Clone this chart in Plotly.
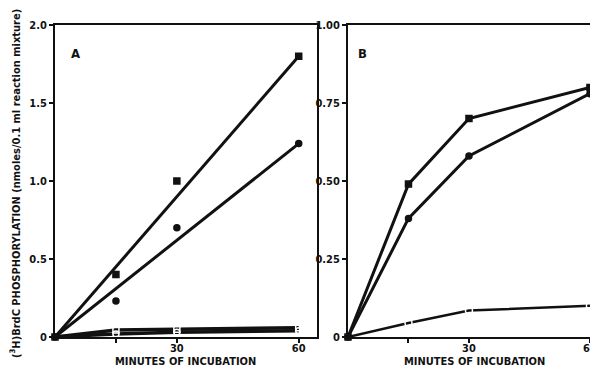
import plotly.graph_objects as go

# Panel A data
a_minutes = [0, 15, 30, 60]
a_sq_filled = [0, 0.40, 1.00, 1.80]
a_ci_filled = [0, 0.23, 0.70, 1.24]
a_fit_x = [0, 60]
a_sq_fit = [0, 1.80]
a_ci_fit = [0, 1.24]
a_sq_open = [0, 0.045, 0.05, 0.06]
a_ci_open = [0, 0.02, 0.03, 0.04]

# Panel B data
b_minutes = [0, 15, 30, 60]
b_sq_filled = [0, 0.49, 0.70, 0.80]
b_ci_filled = [0, 0.38, 0.58, 0.78]
b_ci_open = [0, 0.045, 0.085, 0.10]

x_tickvals = [15, 30, 60]
x_ticktext = ["", "30", "60"]
a_yticks = [0, 0.5, 1.0, 1.5, 2.0]
a_yticktext = ["0", "0.5", "1.0", "1.5", "2.0"]
b_yticks = [0, 0.25, 0.5, 0.75, 1.0]
b_yticktext = ["0", "0.25", "0.50", "0.75", "1.00"]

INK = "#111111"
FONT = "DejaVu Sans Condensed, Liberation Sans Narrow, Roboto, sans-serif"
OFF = 8  # page body margin
W, H = 598 - OFF, 371 - OFF


def px(x):
    return (x - OFF) / W


def py(y):
    return 1 - (y - OFF) / H


fig = go.Figure()


def line(x, y, xa, ya, width=3):
    fig.add_trace(go.Scatter(x=x, y=y, mode="lines", xaxis=xa, yaxis=ya,
                             line=dict(color=INK, width=width), showlegend=False,
                             hoverinfo="skip", cliponaxis=False))


def pts(x, y, xa, ya, symbol, size=6):
    fig.add_trace(go.Scatter(x=x, y=y, mode="markers", xaxis=xa, yaxis=ya,
                             marker=dict(symbol=symbol, size=size,
                                         color=INK if "open" not in symbol else "white",
                                         line=dict(color=INK, width=1.5)),
                             showlegend=False, cliponaxis=False))


# Panel A
line(a_fit_x, a_sq_fit, "x", "y")
line(a_fit_x, a_ci_fit, "x", "y")
line(a_minutes, a_sq_open, "x", "y", 3.5)
line(a_minutes, a_ci_open, "x", "y", 3.5)
pts(a_minutes, a_sq_filled, "x", "y", "square")
pts(a_minutes, a_ci_filled, "x", "y", "circle")
pts(a_minutes[1:], a_sq_open[1:], "x", "y", "square-open")
pts(a_minutes[1:], a_ci_open[1:], "x", "y", "circle-open")

# Panel B
line(b_minutes, b_sq_filled, "x2", "y2")
line(b_minutes, b_ci_filled, "x2", "y2")
line(b_minutes, b_ci_open, "x2", "y2", 2.5)
pts(b_minutes, b_sq_filled, "x2", "y2", "square")
pts(b_minutes, b_ci_filled, "x2", "y2", "circle")
pts(b_minutes[1:], b_ci_open[1:], "x2", "y2", "circle-open", 7)

ydom = [py(337), py(25)]
tickfont = dict(family=FONT, size=11, color=INK, weight="bold")
axis_common = dict(showline=True, linecolor=INK, linewidth=2, ticks="outside",
                   ticklen=4, tickwidth=1.5, tickcolor=INK, showgrid=False,
                   zeroline=False, tickfont=tickfont, automargin=False)
x_common = dict(axis_common, ticklabelstandoff=-4)

fig.update_layout(
    width=W, height=H,
    margin=dict(l=0, r=0, t=0, b=0, autoexpand=False),
    paper_bgcolor="white", plot_bgcolor="white",
    xaxis=dict(domain=[px(55), px(317)], range=[0, 64.5], tickvals=x_tickvals,
               ticktext=x_ticktext, mirror=True, anchor="y", **x_common),
    yaxis=dict(domain=ydom, range=[0, 2.0], tickvals=a_yticks, ticktext=a_yticktext,
               mirror=True, anchor="x", **axis_common),
    xaxis2=dict(domain=[px(348), 1.0], range=[0, 62], tickvals=x_tickvals,
                ticktext=x_ticktext, mirror=True, anchor="y2", **x_common),
    yaxis2=dict(domain=ydom, range=[0, 1.0], tickvals=b_yticks, ticktext=b_yticktext,
                mirror=False, anchor="x2", **axis_common),
)


def note(text, x, y, size, angle=0):
    fig.add_annotation(text=text, x=px(x), y=py(y), xref="paper", yref="paper",
                       xanchor="center", yanchor="middle", showarrow=False,
                       textangle=angle,
                       font=dict(family=FONT, size=size, color=INK, weight="bold"))


note("MINUTES OF INCUBATION", 185, 361, 11)
note("MINUTES OF INCUBATION", 474, 361, 11)
note("(<sup>3</sup>H)BrdC PHOSPHORYLATION (nmoles/0.1 ml reaction mixture)",
     15, 184, 11, -90)
note("A", 75, 54, 13)
note("B", 363, 54, 13)

fig.write_html("out.html")
